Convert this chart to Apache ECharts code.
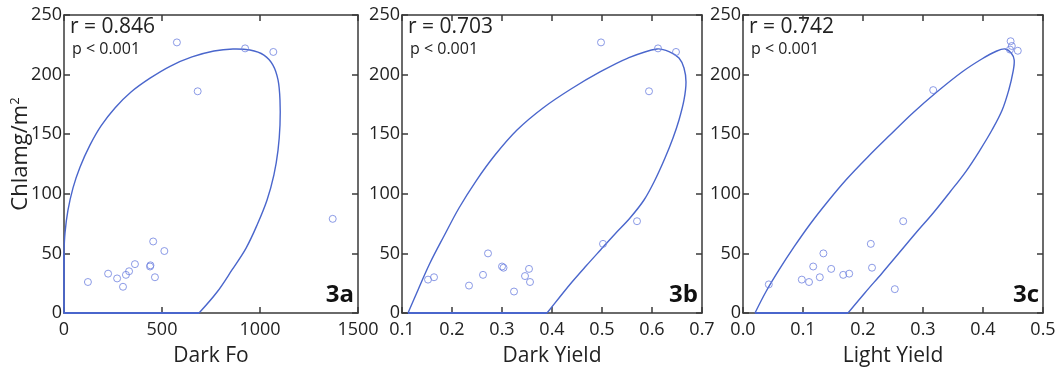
<!DOCTYPE html>
<html>
<head>
<meta charset="utf-8">
<script src="https://cdn.jsdelivr.net/npm/echarts@6/dist/echarts.min.js"></script>
<style>
  html, body { margin: 0; padding: 0; background: #fff; }
  #chart { width: 1064px; height: 376px; }
</style>
</head>
<body>
<div id="chart"></div>
<script>
// panel a: Dark Fo vs Chl a
const darkFoPoints = [
  [576, 227], [924, 222], [1068, 219], [682, 186], [1371, 79], [455, 60],
  [512, 52], [362, 41], [439, 39], [441, 40], [332, 35], [316, 32],
  [225, 33], [271, 29], [464, 30], [122, 26], [301, 22]
];
// outline of the ellipse (part inside the frame)
const darkFoEllipse = [
  [0, 51], [5, 67], [20, 86], [46, 105], [82, 122.5], [133, 141], [189, 157],
  [260, 172], [342, 185.4], [439, 197], [541, 207], [653, 214.8], [765, 219.8],
  [862, 221.5], [949, 220.6], [1020, 216.4], [1066, 208], [1092, 195.5],
  [1102, 178.7], [1102, 157.7], [1092, 136.7], [1071, 115.8], [1036, 94.8],
  [985, 73.8], [929, 54.5], [857, 36.1], [781, 17.6], [689, 0]
];
const darkFoClip = [[689, 0], [0, 0], [0, 51]];

// panel b: Dark Yield vs Chl a
const darkYieldPoints = [
  [0.498, 227], [0.612, 222], [0.648, 219], [0.594, 186], [0.570, 77], [0.502, 58],
  [0.272, 50], [0.300, 39], [0.303, 38], [0.354, 37], [0.346, 31], [0.262, 32],
  [0.356, 26], [0.164, 30], [0.152, 28], [0.234, 23], [0.324, 18]
];
const darkYieldEllipse = [
  [0.112, 0], [0.132, 19.3], [0.156, 41.9], [0.184, 64.6], [0.214, 88.1],
  [0.248, 110.7], [0.286, 132.5], [0.330, 153.5], [0.382, 172], [0.438, 187.9],
  [0.496, 202.2], [0.552, 213.9], [0.610, 221.5], [0.636, 218.9], [0.654, 213.9],
  [0.664, 205.5], [0.668, 193.8], [0.664, 178.7], [0.654, 161.9], [0.642, 146.8],
  [0.626, 130], [0.606, 111.6], [0.584, 94.8], [0.556, 79.7], [0.526, 66.3],
  [0.497, 52.9], [0.468, 39.4], [0.440, 26], [0.414, 12.6], [0.390, 0]
];
const darkYieldClip = [[0.390, 0], [0.112, 0]];

// panel c: Light Yield vs Chl a
const lightYieldPoints = [
  [0.446, 228], [0.448, 224], [0.458, 220], [0.445, 221], [0.317, 187], [0.267, 77],
  [0.213, 58], [0.134, 50], [0.117, 39], [0.215, 38], [0.147, 37], [0.177, 33],
  [0.167, 32], [0.128, 30], [0.098, 28], [0.110, 26], [0.043, 24], [0.253, 20]
];
const lightYieldEllipse = [
  [0.020, 0], [0.038, 17.6], [0.060, 36.1], [0.085, 55.4], [0.112, 74.7],
  [0.142, 94], [0.173, 112.4], [0.208, 130.9], [0.245, 149.3], [0.283, 167.8],
  [0.323, 185.4], [0.365, 202.2], [0.398, 213.1], [0.423, 219.8], [0.437, 221.5],
  [0.447, 218.1], [0.452, 212.2], [0.450, 202.2], [0.443, 187.1], [0.432, 170.3],
  [0.415, 153.5], [0.395, 136.7], [0.372, 119.1], [0.345, 101.5], [0.317, 83.9],
  [0.288, 67.1], [0.260, 50.3], [0.232, 33.6], [0.203, 16.8], [0.175, 0]
];
const lightYieldClip = [[0.175, 0], [0.020, 0]];

const xNames = ['Dark Fo', 'Dark Yield', 'Light Yield'];
const xRanges = [[0, 1500, 500], [0.1, 0.7, 0.1], [0, 0.5, 0.1]];
const rLabels = ['r = 0.846', 'r = 0.703', 'r = 0.742'];
const panelTags = ['3a', '3b', '3c'];

const gridBoxes = [
  { left: 64, top: 15, width: 294, height: 298 },
  { left: 402, top: 15, width: 300, height: 298 },
  { left: 743, top: 15, width: 300, height: 298 }
];

const font = '"Open Sans", "DejaVu Sans", sans-serif';
const axisCol = '#3a3a3a';
const lineCol = '#4a66cc';
const markCol = '#6f82e0';

const chart = echarts.init(document.getElementById('chart'));

const grid = [], xAxis = [], yAxis = [], series = [], graphic = [];
const pointsSets = [darkFoPoints, darkYieldPoints, lightYieldPoints];
const ellipseSets = [darkFoEllipse, darkYieldEllipse, lightYieldEllipse];
const clipSets = [darkFoClip, darkYieldClip, lightYieldClip];

// one smooth path through the whole outline (line series smoothing flattens extremes)
const outlineRenderer = (pts) => (params, api) => {
  if (params.dataIndex !== 0) return null;
  return {
    type: 'polyline',
    shape: { points: pts.map(p => api.coord(p)), smooth: 0.35 },
    style: { stroke: lineCol, lineWidth: 1.4, fill: null },
    silent: true
  };
};

gridBoxes.forEach((g, i) => {
  grid.push(Object.assign({ show: false }, g));
  const [xmin, xmax, xint] = xRanges[i];
  const tickCommon = {
    axisLine: { show: true, onZero: false, lineStyle: { color: axisCol, width: 1.5 } },
    axisTick: { show: true, inside: true, length: 6, lineStyle: { color: axisCol, width: 1.5 } },
    splitLine: { show: false }
  };
  // bottom axis
  xAxis.push(Object.assign({
    type: 'value', gridIndex: i, min: xmin, max: xmax, interval: xint, position: 'bottom',
    name: xNames[i], nameLocation: 'middle', nameGap: 33, nameMoveOverlap: false,
    nameTextStyle: { fontFamily: font, fontSize: 21, color: '#222' },
    axisLabel: {
      fontFamily: font, fontSize: 18, color: '#222', margin: 8,
      formatter: v => i === 0 ? String(v) : v.toFixed(1)
    }
  }, tickCommon));
  // top mirror
  xAxis.push(Object.assign({
    type: 'value', gridIndex: i, min: xmin, max: xmax, interval: xint, position: 'top',
    axisLabel: { show: false }
  }, tickCommon));
  // left axis
  yAxis.push(Object.assign({
    type: 'value', gridIndex: i, min: 0, max: 250, interval: 50, position: 'left',
    name: i === 0 ? 'Chlamg/m{sup|2}' : '', nameLocation: 'middle', nameGap: 32,
    nameMoveOverlap: false,
    nameTextStyle: {
      fontFamily: font, fontSize: 22, color: '#222', padding: [0, 0, 0, 20],
      rich: { sup: { fontFamily: font, fontSize: 13, color: '#222', verticalAlign: 'top', padding: [0, 0, 10, 0] } }
    },
    axisLabel: { fontFamily: font, fontSize: 18, color: '#222', margin: 2 }
  }, tickCommon));
  // right mirror
  yAxis.push(Object.assign({
    type: 'value', gridIndex: i, min: 0, max: 250, interval: 50, position: 'right',
    axisLabel: { show: false }
  }, tickCommon));

  series.push({
    type: 'custom', xAxisIndex: 2 * i, yAxisIndex: 2 * i, data: ellipseSets[i],
    renderItem: outlineRenderer(ellipseSets[i]), silent: true, z: 3
  });
  series.push({
    type: 'line', xAxisIndex: 2 * i, yAxisIndex: 2 * i, data: clipSets[i],
    symbol: 'none', lineStyle: { color: lineCol, width: 1.8 }, silent: true, z: 4
  });
  series.push({
    type: 'scatter', xAxisIndex: 2 * i, yAxisIndex: 2 * i, data: pointsSets[i],
    symbol: 'circle', symbolSize: 7,
    itemStyle: { color: 'rgba(255,255,255,0)', borderColor: markCol, borderWidth: 1 }, z: 5
  });

  graphic.push({
    type: 'text', left: g.left + 6, top: 17,
    style: { text: rLabels[i], fontFamily: font, fontSize: 21, fill: '#222' }
  });
  graphic.push({
    type: 'text', left: g.left + 8, top: 41,
    style: { text: 'p < 0.001', fontFamily: font, fontSize: 16, fill: '#222' }
  });
  graphic.push({
    type: 'text', right: 1064 - (g.left + g.width) + 4, top: 283,
    style: { text: panelTags[i], fontFamily: font, fontSize: 24, fontWeight: 'bold', fill: '#111' }
  });
});

chart.setOption({
  animation: false,
  backgroundColor: '#fff',
  grid, xAxis, yAxis, series, graphic
});
</script>
</body>
</html>
